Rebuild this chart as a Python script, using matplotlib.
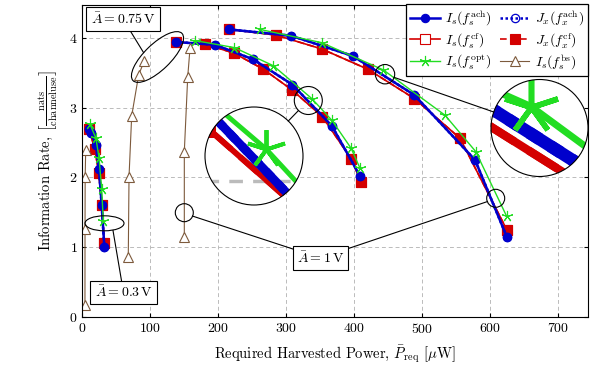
import numpy as np
import matplotlib.pyplot as plt
from matplotlib.patches import Circle, Ellipse

plt.rcParams['font.family'] = ['cmr10', 'DejaVu Serif']
plt.rcParams['mathtext.fontset'] = 'cm'
plt.rcParams['axes.formatter.use_mathtext'] = True
plt.rcParams['font.size'] = 10

nan = np.nan

# curves for A = 0.3 V, 0.75 V and 1 V, separated by nan
ach_x = [10.5, 13.5, 20.1, 24.6, 28.5, 32.4, nan,
         137.4, 195.0, 251.5, 308.7, 366.8, 408.4, nan,
         215.7, 306.9, 397.6, 488.2, 577.5, 624.1]
ach_y = [2.70, 2.64, 2.46, 2.12, 1.60, 1.01, nan,
         3.94, 3.90, 3.69, 3.33, 2.74, 2.02, nan,
         4.12, 4.03, 3.74, 3.18, 2.25, 1.15]

cf_x = [10.3, 18.4, 24.3, 28.5, 32.4, nan,
        137.4, 180.4, 223.1, 266.2, 308.8, 352.9, 395.1, 409.8, nan,
        215.7, 284.4, 352.1, 419.7, 488.2, 555.4, 624.1]
cf_y = [2.69, 2.40, 2.07, 1.60, 1.06, nan,
        3.94, 3.91, 3.78, 3.55, 3.25, 2.87, 2.27, 1.94, nan,
        4.12, 4.04, 3.84, 3.55, 3.13, 2.56, 1.25]

opt_x = [11.3, 20.1, 24.6, 28.5, 30.9, nan,
         165.7, 223.5, 280.9, 337.4, 366.8, 395.1, 408.4, nan,
         261.3, 352.1, 442.6, 533.4, 578.5, 624.1]
opt_y = [2.76, 2.56, 2.28, 1.84, 1.37, nan,
         3.96, 3.86, 3.60, 3.13, 2.82, 2.42, 2.13, nan,
         4.12, 3.93, 3.54, 2.89, 2.37, 1.44]

bs_x = [3.9, 4.0, 4.2, 5.0, nan,
        67.6, 68.7, 72.6, 82.9, 91.2, nan,
        150.0, 150.0, 155.0, 158.4]
bs_y = [0.17, 1.26, 2.00, 2.39, nan,
        0.86, 2.01, 2.88, 3.47, 3.67, nan,
        1.15, 2.37, 3.44, 3.85]

x_ticks = [0, 100, 200, 300, 400, 500, 600, 700]
y_ticks = [0, 1, 2, 3, 4]

labels = [r'$I_s(f_s^{\mathrm{ach}})$', r'$I_s(f_s^{\mathrm{cf}})$',
          r'$I_s(f_s^{\mathrm{opt}})$', r'$J_x(f_x^{\mathrm{ach}})$',
          r'$J_x(f_x^{\mathrm{cf}})$', r'$I_s(f_s^{\mathrm{bs}})$']

blue = '#0000cc'
red = '#d40000'
green = '#22dd22'
brown = '#7d5a3c'


def draw(a, k=1.0, clip=None):
    """Draw all six series on axes a; k scales widths (for the zoom insets)."""
    is_cf, = a.plot(cf_x, cf_y, color=red, lw=1.2 * k, marker='s', ms=6.5 * k,
                    mfc='white', mec=red, mew=0.8 * k)
    jx_cf, = a.plot(cf_x, cf_y, color=red, lw=1.2 * k, ls=(0, (4, 2)), marker='s',
                    ms=6.5 * k, mfc=red, mec=red, mew=0.8 * k)
    is_ach, = a.plot(ach_x, ach_y, color=blue, lw=1.8 * k, marker='o', ms=6 * k,
                     mfc=blue, mec=blue, mew=0.8 * k)
    jx_ach, = a.plot(ach_x, ach_y, color=blue, lw=1.8 * k, ls=(0, (1, 1)), marker='o',
                     ms=6 * k, mfc='none', mec=blue, mew=0.9 * k)
    is_opt, = a.plot(opt_x, opt_y, color=green, lw=1.0 * k, marker=(5, 2, 0),
                     ms=8 * k, mew=0.8 * k)
    is_bs, = a.plot(bs_x, bs_y, color=brown, lw=0.8 * k, marker='^', ms=6.5 * k,
                    mfc='white', mec=brown, mew=0.8 * k)
    arts = [is_ach, is_cf, is_opt, jx_ach, jx_cf, is_bs]
    if clip is not None:
        for art in arts:
            art.set_clip_path(clip)
    return arts


fig = plt.figure(figsize=(5.98, 3.77), dpi=100)
W, H = 598, 377
ax = fig.add_axes([82.3 / W, (H - 317) / H, 506 / W, 312.5 / H])
ax.set_xlim(0, 744)
ax.set_ylim(0, 4.477)
ax.set_xticks(x_ticks)
ax.set_yticks(y_ticks)
ax.tick_params(direction='in', top=True, right=True, length=3, labelsize=10)
ax.grid(True, color='#bbbbbb', ls=(0, (4, 3)), lw=0.7)
ax.set_axisbelow(True)

handles = draw(ax)
ax.legend(handles, labels, ncol=2, loc='upper right', borderaxespad=0,
          fancybox=False, edgecolor='black', framealpha=1, fontsize=10,
          handlelength=2.1, columnspacing=0.6, handletextpad=0.4,
          labelspacing=0.2, borderpad=0.3).get_frame().set_linewidth(0.9)

ax.set_xlabel(r'Required Harvested Power, $\bar{P}_{\mathrm{req}}$ [$\mu$W]', labelpad=5,
              fontsize=10.5)
ax.set_ylabel(r'Information Rate, $\left[\frac{\mathrm{nats}}{\mathrm{channeluse}}\right]$',
              labelpad=6, fontsize=10.5)


def spy(src, r_src, dst, r_dst):
    # magnified circular view of the main axes (pixel positions, y from top)
    k = r_dst / r_src
    axin = fig.add_axes([(dst[0] - r_dst) / W, (H - dst[1] - r_dst) / H,
                         2 * r_dst / W, 2 * r_dst / H], zorder=3)
    inv = ax.transData.inverted()
    x0, y0 = inv.transform((src[0] - r_src, H - src[1] - r_src))
    x1, y1 = inv.transform((src[0] + r_src, H - src[1] + r_src))
    axin.set_xlim(x0, x1)
    axin.set_ylim(y0, y1)
    axin.axis('off')
    clip = Circle((0.5, 0.5), 0.5, transform=axin.transAxes)
    axin.add_patch(Circle((0.5, 0.5), 0.5, transform=axin.transAxes,
                          fc='white', ec='none', zorder=0))
    for xt in x_ticks:
        if x0 < xt < x1:
            axin.axvline(xt, color='#bbbbbb', ls=(0, (4, 3)), lw=0.7 * k,
                         zorder=0.5).set_clip_path(clip)
    for yt in y_ticks:
        if y0 < yt < y1:
            axin.axhline(yt, color='#bbbbbb', ls=(0, (4, 3)), lw=0.7 * k,
                         zorder=0.5).set_clip_path(clip)
    draw(axin, k, clip)
    return k


spy((308.3, 100.5), 14, (254, 156), 49)
spy((385, 74.2), 9.7, (539.5, 128), 48.5)

# overlay in pixel coordinates for circles, ellipses and labels
ov = fig.add_axes([0, 0, 1, 1], zorder=4)
ov.set_xlim(0, W)
ov.set_ylim(H, 0)
ov.axis('off')
ov.patch.set_alpha(0)

for (cx, cy), r in [((308.3, 100.5), 14), ((254, 156), 49), ((385, 74.2), 9.7),
                    ((539.5, 128), 48.5), ((184.3, 212.7), 9), ((495.7, 198.3), 9)]:
    ov.add_patch(Circle((cx, cy), r, fill=False, ec='black', lw=0.8))
ov.add_patch(Ellipse((157.5, 57), 68, 26, angle=-44, fill=False, ec='black', lw=0.8))
ov.add_patch(Ellipse((104.5, 223.3), 39, 15, fill=False, ec='black', lw=0.8))

segments = [((298.5, 110.5), (288.3, 121)), ((394.2, 77.4), (493.7, 112)),
            ((123, 19), (143.5, 52.5)), ((113, 230.5), (123.5, 292.5)),
            ((320.3, 258), (192.6, 216.1)), ((320.3, 258), (487.3, 201.6))]
for (xa, ya), (xb, yb) in segments:
    ov.plot([xa, xb], [ya, yb], color='black', lw=0.8)

box = dict(boxstyle='square,pad=0.3', fc='white', ec='black', lw=0.8)
ov.text(123, 19, r'$\bar{A}=0.75\,\mathrm{V}$', ha='center', va='center', bbox=box, zorder=5)
ov.text(123.5, 292.5, r'$\bar{A}=0.3\,\mathrm{V}$', ha='center', va='center', bbox=box, zorder=5)
ov.text(320.3, 258, r'$\bar{A}=1\,\mathrm{V}$', ha='center', va='center', bbox=box, zorder=5)

fig.savefig('out.png', dpi=100)
